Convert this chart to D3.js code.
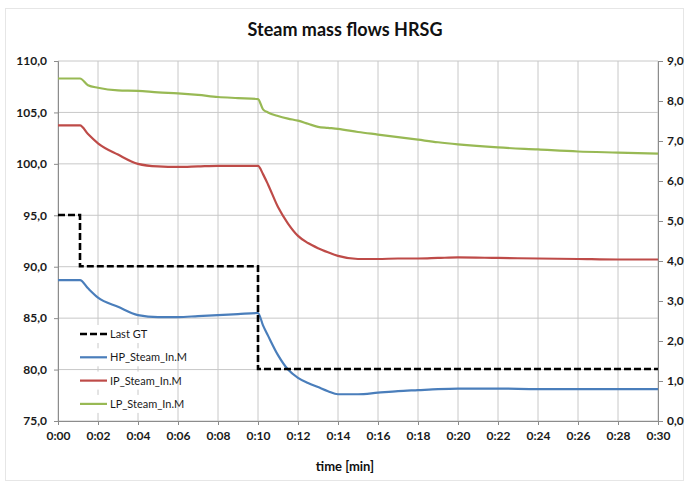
<!DOCTYPE html>
<html>
<head>
<meta charset="utf-8">
<script src="https://cdn.jsdelivr.net/npm/d3@7"></script>
<style>
  body { margin: 0; background: #fff; }
  text { font-family: Lato, "Open Sans", sans-serif; }
</style>
</head>
<body>
<script>
// time axis in minutes, shared by the steam flows
const times = [0, 1.1, 1.5, 2, 3, 4, 5, 6, 7, 8, 9, 10, 10.25, 10.5, 11, 11.5, 12, 12.5,
  13, 13.5, 14, 15, 16, 17, 18, 19, 20, 22, 24, 26, 28, 30];

const hpSteam = [88.7, 88.7, 87.9, 87.0, 86.1, 85.3, 85.1, 85.1, 85.2, 85.3, 85.4, 85.5,
  84.3, 83.3, 81.4, 80.0, 79.2, 78.7, 78.3, 77.9, 77.6, 77.6, 77.75, 77.9, 78.0, 78.1, 78.15,
  78.15, 78.1, 78.1, 78.1, 78.1];

const ipSteam = [103.75, 103.75, 102.9, 102.0, 100.9, 100.0, 99.75, 99.7, 99.75, 99.8, 99.8, 99.8,
  99.0, 98.0, 95.8, 94.2, 93.0, 92.3, 91.8, 91.4, 91.05, 90.75, 90.75, 90.8, 90.8, 90.85, 90.9,
  90.85, 90.8, 90.75, 90.7, 90.7];

const lpSteam = [108.3, 108.3, 107.65, 107.4, 107.15, 107.1, 106.95, 106.85, 106.7, 106.5, 106.4, 106.3,
  105.3, 105.0, 104.65, 104.4, 104.2, 103.9, 103.6, 103.5, 103.4, 103.1, 102.85, 102.6, 102.35, 102.1, 101.9,
  101.6, 101.4, 101.2, 101.1, 101.0];

// gas turbine load (right axis), step changes
const gtTimes = [0, 1.1, 10, 30];
const gtLoad = [5.15, 3.87, 1.3, 1.3];

const xTicks = d3.range(0, 31, 2);
const yTicks = [75, 80, 85, 90, 95, 100, 105, 110];
const y2Ticks = d3.range(0, 10, 1);

const seriesNames = ['Last GT', 'HP_Steam_In.M', 'IP_Steam_In.M', 'LP_Steam_In.M'];
const seriesColors = ['#000000', '#4a7ebb', '#be4b48', '#98b954'];

const width = 689, height = 486;
const margin = {top: 61, right: 31, bottom: 65, left: 58};

const svg = d3.select('body').append('svg')
  .attr('width', width)
  .attr('height', height);

// outer chart border
svg.append('rect')
  .attr('x', 5.5).attr('y', 8.5)
  .attr('width', width - 11).attr('height', height - 14)
  .attr('fill', 'none').attr('stroke', '#e6e6e6');

const xScale = d3.scaleLinear().domain([0, 30]).range([margin.left, width - margin.right]);
const yScale = d3.scaleLinear().domain([75, 110]).range([height - margin.bottom, margin.top]);
const y2Scale = d3.scaleLinear().domain([0, 9]).range([height - margin.bottom, margin.top]);

const fmt = d => d3.format('.1f')(d).replace('.', ',');
const fmtTime = d => '0:' + String(d).padStart(2, '0');

// gridlines
svg.append('g')
  .selectAll('line.v')
  .data(xTicks)
  .join('line')
  .attr('x1', d => xScale(d)).attr('x2', d => xScale(d))
  .attr('y1', margin.top).attr('y2', height - margin.bottom)
  .attr('stroke', '#c8c8c8');

svg.append('g')
  .selectAll('line.h')
  .data(yTicks)
  .join('line')
  .attr('x1', margin.left).attr('x2', width - margin.right)
  .attr('y1', d => yScale(d)).attr('y2', d => yScale(d))
  .attr('stroke', '#c8c8c8');

// Axes
const xAxis = d3.axisBottom(xScale).tickValues(xTicks).tickFormat(fmtTime).tickSize(4).tickPadding(6);
const gx = svg.append('g')
  .attr('transform', `translate(0, ${height - margin.bottom})`)
  .call(xAxis);

const yAxis = d3.axisLeft(yScale).tickValues(yTicks).tickFormat(fmt).tickSize(4).tickPadding(7);
const gy = svg.append('g')
  .attr('transform', `translate(${margin.left},0)`)
  .call(yAxis);

const y2Axis = d3.axisRight(y2Scale).tickValues(y2Ticks).tickFormat(fmt).tickSize(5).tickPadding(4);
const gy2 = svg.append('g')
  .attr('transform', `translate(${width - margin.right},0)`)
  .call(y2Axis);

[gx, gy, gy2].forEach(g => {
  g.select('.domain').attr('stroke', '#8c8c8c');
  g.selectAll('.tick line').attr('stroke', '#8c8c8c');
  g.selectAll('.tick text')
    .attr('font-size', 12)
    .attr('font-weight', 'bold')
    .attr('fill', '#1a1a1a');
});

// series lines
const steamLine = d3.line()
  .x((d, i) => xScale(times[i]))
  .y(d => yScale(d))
  .curve(d3.curveMonotoneX);

[hpSteam, ipSteam, lpSteam].forEach((s, k) => {
  svg.append('path')
    .datum(s)
    .attr('d', steamLine)
    .attr('fill', 'none')
    .attr('stroke', seriesColors[k + 1])
    .attr('stroke-width', 2.2);
});

const gtLine = d3.line()
  .x((d, i) => xScale(gtTimes[i]))
  .y(d => y2Scale(d))
  .curve(d3.curveStepAfter);

svg.append('path')
  .datum(gtLoad)
  .attr('d', gtLine)
  .attr('fill', 'none')
  .attr('stroke', '#000')
  .attr('stroke-width', 2.6)
  .attr('stroke-dasharray', '7,3');

// Legend
const legend = svg.append('g')
  .attr('transform', 'translate(80, 334)')
  .selectAll('g')
  .data(seriesNames)
  .join('g')
  .attr('transform', (d, i) => `translate(0, ${i * 23.3})`);

legend.append('rect')
  .attr('x', -4).attr('y', -9)
  .attr('width', 100).attr('height', 18)
  .attr('fill', '#fff');

legend.append('line')
  .attr('x1', 0).attr('x2', 27)
  .attr('stroke', (d, i) => seriesColors[i])
  .attr('stroke-width', (d, i) => i === 0 ? 2.6 : 2.2)
  .attr('stroke-dasharray', (d, i) => i === 0 ? '7,3' : null);

legend.append('text')
  .attr('x', 30).attr('y', 4)
  .attr('font-size', 11)
  .attr('fill', '#1a1a1a')
  .text(d => d);

// Labelling the graph
svg.append('text')
  .attr('font-weight', 'bold')
  .attr('font-size', 18)
  .attr('x', 345).attr('y', 36)
  .attr('text-anchor', 'middle')
  .attr('fill', '#111')
  .text('Steam mass flows HRSG');

svg.append('text')
  .attr('font-weight', 'bold')
  .attr('font-size', 13)
  .attr('x', 345).attr('y', 471)
  .attr('text-anchor', 'middle')
  .attr('fill', '#111')
  .text('time [min]');
</script>
</body>
</html>
